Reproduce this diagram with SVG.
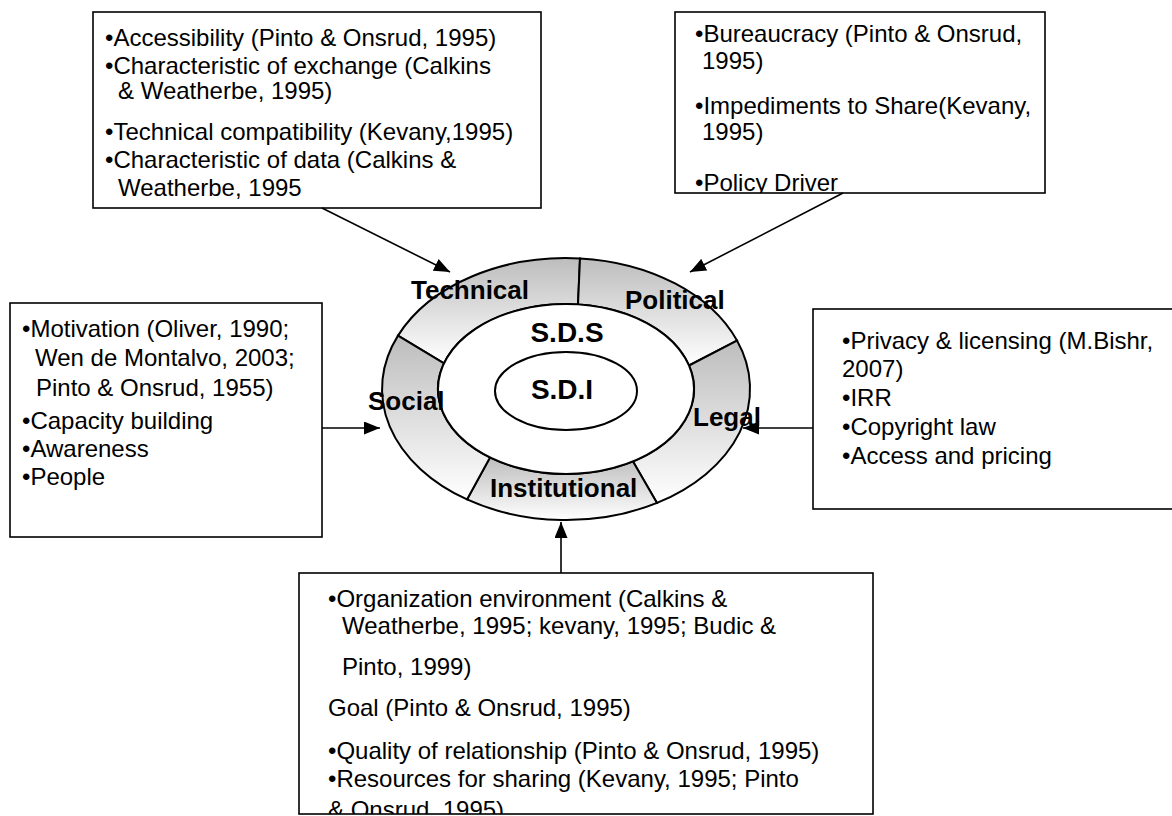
<svg xmlns="http://www.w3.org/2000/svg" width="1172" height="816" viewBox="0 0 1172 816">
<style>
.box{fill:#fff;stroke:#000;stroke-width:1.6}
.t{font-family:"Liberation Sans",Arial,sans-serif;font-size:24px;fill:#000}
.lbl{font-family:"Liberation Sans",Arial,sans-serif;font-size:26px;font-weight:bold;fill:#000}
.core{font-family:"Liberation Sans",Arial,sans-serif;font-size:28px;font-weight:bold;fill:#000;text-anchor:middle}
.seg{stroke:#000;stroke-width:2;fill:url(#g)}
.ring{fill:#fff;stroke:#000;stroke-width:2}
.conn{stroke:#000;stroke-width:1.6;fill:none;marker-end:url(#ah)}
</style>
<defs>
<linearGradient id="g" x1="0" y1="0" x2="0" y2="1">
<stop offset="0" stop-color="#bdbdbd"/>
<stop offset="1" stop-color="#ffffff"/>
</linearGradient>
<marker id="ah" markerWidth="16" markerHeight="13" refX="16" refY="6.5" orient="auto" markerUnits="userSpaceOnUse">
<path d="M0,0 L16,6.5 L0,13 Z" fill="#000"/>
</marker>
<clipPath id="cTR"><rect x="675" y="12" width="370" height="181"/></clipPath>
<clipPath id="cB"><rect x="299" y="573" width="574" height="241"/></clipPath>
<clipPath id="cTL"><rect x="93" y="12" width="448" height="196"/></clipPath>
</defs>
<rect width="1172" height="816" fill="#fff"/>

<g id="hub">
<path class="seg" d="M398,335.6 A184,131 0 0,1 580,258.4 L578,304.4 A128,85 0 0,0 444,363.3 Z"/>
<path class="seg" d="M580,258.4 A184,131 0 0,1 737,340.6 L689,365.5 A128,85 0 0,0 578,304.4 Z"/>
<path class="seg" d="M737,340.6 A184,131 0 0,1 657,502.9 L633,461.4 A128,85 0 0,0 689,365.5 Z"/>
<path class="seg" d="M657,502.9 A184,131 0 0,1 467,499.4 L490,457.4 A128,85 0 0,0 633,461.4 Z"/>
<path class="seg" d="M467,499.4 A184,131 0 0,1 398,335.6 L444,363.3 A128,85 0 0,0 490,457.4 Z"/>
<ellipse class="ring" cx="566" cy="389" rx="128" ry="85"/>
<ellipse class="ring" cx="566" cy="391" rx="71" ry="39"/>
<text class="core" x="567" y="342">S.D.S</text>
<text class="core" x="562" y="399">S.D.I</text>
<text class="lbl" x="411" y="299">Technical</text>
<text class="lbl" x="625" y="309">Political</text>
<text class="lbl" x="368" y="410">Social</text>
<text class="lbl" x="693" y="426">Legal</text>
<text class="lbl" x="490" y="497">Institutional</text>
</g>

<g id="technical-box">
<rect class="box" x="93" y="12" width="448" height="196"/>
<g clip-path="url(#cTL)">
<text class="t" x="105" y="46">•Accessibility (Pinto &amp; Onsrud, 1995)</text>
<text class="t" x="105" y="74">•Characteristic of exchange (Calkins</text>
<text class="t" x="118" y="99">&amp; Weatherbe, 1995)</text>
<text class="t" x="105" y="140">•Technical compatibility (Kevany,1995)</text>
<text class="t" x="105" y="168">•Characteristic of data (Calkins &amp;</text>
<text class="t" x="118" y="196">Weatherbe, 1995</text>
</g>
</g>

<g id="political-box">
<rect class="box" x="675" y="12" width="370" height="181"/>
<g clip-path="url(#cTR)">
<text class="t" x="695" y="42">•Bureaucracy (Pinto &amp; Onsrud,</text>
<text class="t" x="702" y="69">1995)</text>
<text class="t" x="695" y="114">•Impediments to Share(Kevany,</text>
<text class="t" x="702" y="140">1995)</text>
<text class="t" x="695" y="191">•Policy Driver</text>
</g>
</g>

<g id="social-box">
<rect class="box" x="10" y="303" width="312" height="234"/>
<text class="t" x="22" y="337">•Motivation (Oliver, 1990;</text>
<text class="t" x="35" y="366">Wen de Montalvo, 2003;</text>
<text class="t" x="36" y="396">Pinto &amp; Onsrud, 1955)</text>
<text class="t" x="22" y="429">•Capacity building</text>
<text class="t" x="22" y="457">•Awareness</text>
<text class="t" x="22" y="485">•People</text>
</g>

<g id="legal-box">
<rect class="box" x="813" y="309" width="380" height="200"/>
<text class="t" x="842" y="349">•Privacy &amp; licensing (M.Bishr,</text>
<text class="t" x="842" y="377">2007)</text>
<text class="t" x="842" y="406">•IRR</text>
<text class="t" x="842" y="435">•Copyright law</text>
<text class="t" x="842" y="464">•Access and pricing</text>
</g>

<g id="institutional-box">
<rect class="box" x="299" y="573" width="574" height="241"/>
<g clip-path="url(#cB)">
<text class="t" x="328" y="607">•Organization environment (Calkins &amp;</text>
<text class="t" x="342" y="634">Weatherbe, 1995; kevany, 1995; Budic &amp;</text>
<text class="t" x="342" y="675">Pinto, 1999)</text>
<text class="t" x="328" y="716">Goal (Pinto &amp; Onsrud, 1995)</text>
<text class="t" x="328" y="759">•Quality of relationship (Pinto &amp; Onsrud, 1995)</text>
<text class="t" x="328" y="787">•Resources for sharing (Kevany, 1995; Pinto</text>
<text class="t" x="328" y="818">&amp; Onsrud, 1995)</text>
</g>
</g>

<g id="connectors">
<path class="conn" d="M322,208 L450,272"/>
<path class="conn" d="M843,193 L690,272"/>
<path class="conn" d="M322,428 L380,428"/>
<path class="conn" d="M813,428 L743,428"/>
<path class="conn" d="M561,573 L561,522"/>
</g>
</svg>
